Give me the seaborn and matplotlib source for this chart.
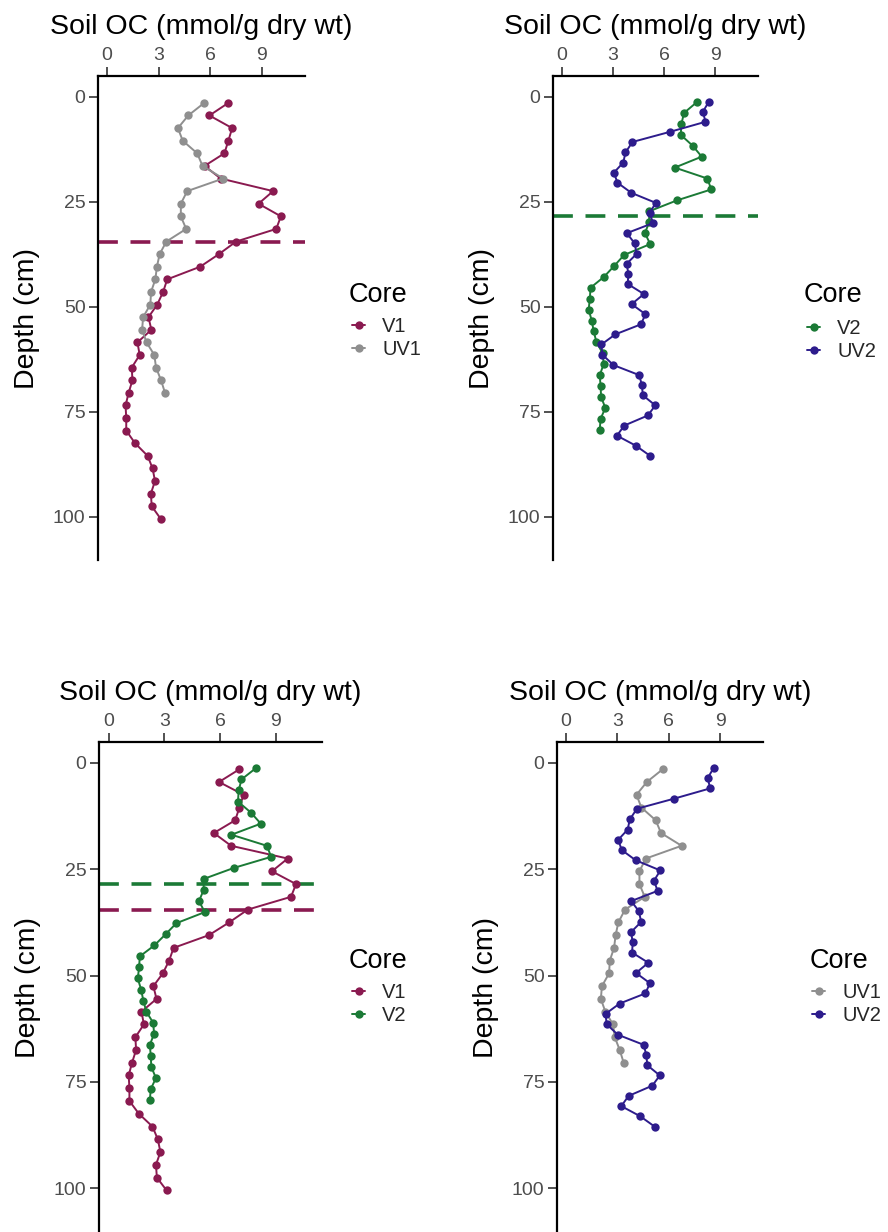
import numpy as np
import pandas as pd
import matplotlib
matplotlib.use("Agg")
import matplotlib.pyplot as plt
from matplotlib.lines import Line2D
import seaborn as sns

# ---------------- data ----------------
v1_depth = [1.5, 4.5, 7.5, 10.5, 13.5, 16.5, 19.5, 22.5, 25.5, 28.5, 31.5, 34.5,
            37.5, 40.5, 43.5, 46.5, 49.5, 52.5, 55.5, 58.5, 61.5, 64.5, 67.5, 70.5,
            73.5, 76.5, 79.5, 82.5, 85.5, 88.5, 91.5, 94.5, 97.5, 100.5]
v1_oc = [7.05, 5.95, 7.27, 7.05, 6.82, 5.67, 6.60, 9.65, 8.80, 10.10, 9.83, 7.50,
         6.50, 5.41, 3.50, 3.26, 2.92, 2.41, 2.58, 1.77, 1.90, 1.44, 1.48, 1.26,
         1.08, 1.12, 1.12, 1.63, 2.36, 2.65, 2.79, 2.55, 2.60, 3.12]

uv1_depth = [1.5, 4.5, 7.5, 10.5, 13.5, 16.5, 19.5, 22.5, 25.5, 28.5, 31.5, 34.5,
             37.5, 40.5, 43.5, 46.5, 49.5, 52.5, 55.5, 58.5, 61.5, 64.5, 67.5, 70.5]
uv1_oc = [5.65, 4.72, 4.12, 4.40, 5.24, 5.55, 6.75, 4.66, 4.29, 4.29, 4.60, 3.45,
          3.06, 2.90, 2.81, 2.56, 2.52, 2.10, 2.04, 2.30, 2.75, 2.85, 3.14, 3.37]

v2_depth = [1.3, 3.9, 6.5, 9.1, 11.7, 14.3, 16.9, 19.5, 22.1, 24.7, 27.3, 29.9,
            32.5, 35.1, 37.7, 40.3, 42.9, 45.5, 48.1, 50.7, 53.3, 55.9, 58.5, 61.1,
            63.7, 66.3, 68.9, 71.5, 74.1, 76.7, 79.3]
v2_oc = [7.92, 7.16, 7.01, 6.97, 7.67, 8.20, 6.62, 8.53, 8.76, 6.75, 5.12, 5.12,
         4.87, 5.18, 3.65, 3.07, 2.47, 1.68, 1.64, 1.57, 1.75, 1.87, 2.03, 2.40,
         2.45, 2.22, 2.27, 2.30, 2.55, 2.27, 2.22]

uv2_depth = [1.2, 3.6, 6.0, 8.4, 10.8, 13.3, 15.7, 18.1, 20.5, 22.9, 25.3, 27.7,
             30.1, 32.5, 34.9, 37.4, 39.8, 42.2, 44.6, 47.0, 49.4, 51.8, 54.2, 56.6,
             59.0, 61.4, 63.9, 66.3, 68.7, 71.1, 73.5, 75.9, 78.3, 80.7, 83.1, 85.5]
uv2_oc = [8.62, 8.27, 8.42, 6.33, 4.14, 3.73, 3.60, 3.05, 3.26, 4.07, 5.51, 5.14,
          5.35, 3.81, 4.26, 4.39, 3.80, 3.90, 3.86, 4.81, 4.09, 4.90, 4.64, 3.13,
          2.32, 2.37, 3.02, 4.54, 4.69, 4.75, 5.48, 5.04, 3.66, 3.23, 4.34, 5.17]

cutoff_depth = {"V1": 34.5, "V2": 28.4}

panels = [["V1", "UV1"], ["V2", "UV2"], ["V1", "V2"], ["UV1", "UV2"]]
x_ticks = [0, 3, 6, 9]
y_ticks = [0, 25, 50, 75, 100]
x_label = "Soil OC (mmol/g dry wt)"
y_label = "Depth (cm)"
legend_title = "Core"

colors = {"V1": "#8A1A50", "UV1": "#8F8F8F", "V2": "#1B7A36", "UV2": "#2D1C8C"}

frames = []
for name, d, v in [("V1", v1_depth, v1_oc), ("UV1", uv1_depth, uv1_oc),
                   ("V2", v2_depth, v2_oc), ("UV2", uv2_depth, uv2_oc)]:
    frames.append(pd.DataFrame({"Depth": d, "OC": v, "Core": name}))
df = pd.concat(frames, ignore_index=True)

# ---------------- figure ----------------
sns.set_theme(style="white")
plt.rcParams["font.family"] = ["Liberation Sans", "DejaVu Sans"]

W, H = 888, 1232
fig = plt.figure(figsize=(W / 100, H / 100), dpi=100)

# axes boxes in pixels: left, right, top, bottom
boxes = [(98, 305, 76, 560), (553, 758, 76, 560),
         (99, 322, 742, 1232), (557, 763, 742, 1232)]
# legend: (title left x, title baseline y, handle left x, entries center y)
legend_pos = [(349, 302, 352, 338), (804, 302, 807, 340),
              (349, 968, 352, 1004), (810, 968, 812, 1004)]

for i, (cores, box) in enumerate(zip(panels, boxes)):
    l, r, t, b = box
    ax = fig.add_axes([l / W, 1 - b / H, (r - l) / W, (b - t) / H])
    sub = df[df["Core"].isin(cores)]
    sns.lineplot(data=sub, x="OC", y="Depth", hue="Core", hue_order=cores,
                 palette=colors, sort=False, estimator=None, orient="y",
                 marker="o", markersize=6, markeredgewidth=0, linewidth=1.4,
                 legend=False, ax=ax)
    for c in cores:
        if c in cutoff_depth:
            ax.axhline(cutoff_depth[c], color=colors[c], lw=2.6,
                       ls=(0, (5.5, 3.5)), zorder=1)
    ax.set_xlim(-0.52, 11.5)
    ax.set_ylim(110.3, -4.9)
    ax.xaxis.tick_top()
    ax.xaxis.set_label_position("top")
    ax.set_xticks(x_ticks)
    ax.set_yticks(y_ticks)
    ax.set_xlabel(x_label, fontsize=20.5, color="black", labelpad=9)
    ax.set_ylabel(y_label, fontsize=20.5, color="black", labelpad=9)
    for s in ["right", "bottom"]:
        ax.spines[s].set_visible(False)
    for s in ["left", "top"]:
        ax.spines[s].set_visible(True)
        ax.spines[s].set_color("black")
        ax.spines[s].set_linewidth(1.6)
    ax.tick_params(axis="both", length=6.5, width=1.2, color="#333333",
                   labelcolor="#4D4D4D", labelsize=14, pad=2.5,
                   top=True, bottom=False, left=True)
    ax.grid(False)
    ax.set_facecolor("white")

    tx, ty, hx, hy = legend_pos[i]
    fig.text(tx / W, 1 - ty / H, legend_title, fontsize=19.5, color="black",
             ha="left", va="baseline")
    handles = [Line2D([], [], color=colors[c], marker="o", markersize=6,
                      markeredgewidth=0, lw=1.4) for c in cores]
    ax.legend(handles, cores, loc="center left",
              bbox_to_anchor=(hx / W, 1 - hy / H),
              bbox_transform=fig.transFigure, frameon=False,
              fontsize=14.5, handlelength=0.65,
              handletextpad=0.85, labelspacing=0.2, borderpad=0,
              borderaxespad=0)

fig.savefig("out.png", dpi=100, facecolor="white")
